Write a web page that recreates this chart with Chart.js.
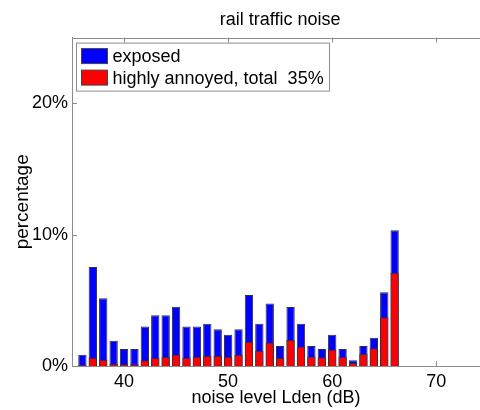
<!DOCTYPE html>
<html>
<head>
<meta charset="utf-8">
<script src="https://cdn.jsdelivr.net/npm/chart.js@4"></script>
<style>
  html, body { margin: 0; padding: 0; background: #fff; }
  #c { display: block; }
</style>
</head>
<body>
<canvas id="c" width="480" height="410"></canvas>
<script>
// Noise level classes (dB, Lden)
const levels = [36,37,38,39,40,41,42,43,44,45,46,47,48,49,50,51,52,53,54,55,56,57,58,59,60,61,62,63,64,65,66];
// Share of population exposed per class (%)
const exposed = [0.86,7.53,5.15,1.92,1.29,1.29,3.0,3.86,3.86,4.52,3.0,3.0,3.21,2.8,2.37,2.8,5.4,3.21,4.75,1.52,4.49,3.21,1.52,1.29,2.37,1.29,0.43,1.52,2.15,5.61,10.33];
// Share of population highly annoyed per class (%)
const annoyed = [0.08,0.63,0.48,0.18,0.13,0.13,0.43,0.63,0.68,0.88,0.63,0.71,0.78,0.76,0.71,0.86,1.82,1.16,1.79,0.61,1.97,1.49,0.73,0.66,1.26,0.71,0.23,0.91,1.36,3.71,7.1];
const xTicks = [40, 50, 60, 70];
const yTicks = [0, 10, 20];
const seriesNames = ['exposed', 'highly annoyed, total  35%'];
const chartTitle = 'rail traffic noise';
const xTitle = 'noise level Lden (dB)';
const yTitle = 'percentage';

const FONT = '"Liberation Sans", Arial, Helvetica, sans-serif';
const AXIS_GRAY = '#8c8c8c';
const BLUE = '#0000ff';
const RED = '#ff0000';
// full axis span in dB; the canvas cuts the plot off a little before the upper end
const X_FULL_MAX = 75;

// Centre the title over the whole axis span rather than over the canvas
const titleOverAxes = {
  id: 'titleOverAxes',
  afterLayout(chart) {
    const tb = chart.titleBlock;
    if (!tb) return;
    tb.left = chart.chartArea.left;
    tb.right = chart.scales.x.getPixelForValue(X_FULL_MAX);
  }
};

// Box border along the top, inward tick marks on every drawn side
const axisFrame = {
  id: 'axisFrame',
  beforeDatasetsDraw(chart) {
    const {ctx, chartArea: a, scales: {x, y}} = chart;
    ctx.save();
    ctx.strokeStyle = AXIS_GRAY;
    ctx.lineWidth = 1;
    ctx.beginPath();
    ctx.moveTo(a.left, Math.round(a.top) + 0.5);
    ctx.lineTo(a.right, Math.round(a.top) + 0.5);
    const tl = 5;
    xTicks.forEach(v => {
      const px = Math.round(x.getPixelForValue(v)) + 0.5;
      ctx.moveTo(px, a.bottom);
      ctx.lineTo(px, a.bottom - tl);
      ctx.moveTo(px, a.top);
      ctx.lineTo(px, a.top + tl);
    });
    yTicks.forEach(v => {
      const py = Math.round(y.getPixelForValue(v)) + 0.5;
      ctx.moveTo(a.left, py);
      ctx.lineTo(a.left + tl, py);
    });
    ctx.stroke();
    ctx.restore();
  }
};

// Boxed legend in the upper left corner of the plot area
const boxLegend = {
  id: 'boxLegend',
  afterDraw(chart) {
    const {ctx, chartArea: a} = chart;
    const bx = a.left + 4.5, by = a.top + 5.5, bw = 253, bh = 48;
    ctx.save();
    ctx.fillStyle = '#fff';
    ctx.fillRect(bx, by, bw, bh);
    ctx.strokeStyle = AXIS_GRAY;
    ctx.lineWidth = 1;
    ctx.strokeRect(bx, by, bw, bh);
    ctx.font = '18px ' + FONT;
    ctx.textBaseline = 'middle';
    ctx.textAlign = 'left';
    chart.data.datasets.forEach((ds, i) => {
      const rowY = by + 13 + i * 21.5;
      ctx.fillStyle = ds.backgroundColor;
      ctx.fillRect(bx + 5, rowY - 7.5, 26, 15);
      ctx.strokeStyle = '#444';
      ctx.strokeRect(bx + 5, rowY - 7.5, 26, 15);
      ctx.fillStyle = '#000';
      ctx.fillText(ds.label, bx + 36, rowY + 1);
    });
    ctx.restore();
  }
};

new Chart(document.getElementById('c'), {
  type: 'bar',
  data: {
    datasets: [
      {
        label: seriesNames[0],
        data: levels.map((l, i) => ({x: l, y: exposed[i]})),
        backgroundColor: BLUE,
        borderColor: '#333',
        borderWidth: 1,
        order: 1
      },
      {
        label: seriesNames[1],
        data: levels.map((l, i) => ({x: l, y: annoyed[i]})),
        backgroundColor: RED,
        borderColor: '#333',
        borderWidth: 1,
        order: 0
      }
    ]
  },
  options: {
    responsive: false,
    animation: false,
    devicePixelRatio: 1,
    grouped: false,
    categoryPercentage: 1,
    barPercentage: 0.8,
    layout: {padding: {left: 0, right: 0, top: 0, bottom: 0}},
    plugins: {
      legend: {display: false},
      tooltip: {enabled: false},
      title: {
        display: true,
        text: chartTitle,
        color: '#000',
        font: {family: FONT, size: 18, weight: 'normal'},
        padding: {top: 9, bottom: 7}
      }
    },
    scales: {
      x: {
        type: 'linear',
        offset: false,
        min: 35,
        max: 74.2,
        grid: {display: false, drawTicks: false, offset: false},
        border: {display: true, color: AXIS_GRAY, width: 1},
        afterBuildTicks: s => { s.ticks = xTicks.map(v => ({value: v})); },
        afterFit: s => { s.height = 44; },
        ticks: {
          color: '#000',
          font: {family: FONT, size: 18},
          padding: 5,
          maxRotation: 0,
          autoSkip: false,
          callback: v => String(v)
        },
        title: {
          display: true,
          text: xTitle,
          color: '#000',
          font: {family: FONT, size: 18},
          padding: {top: 0, bottom: 1}
        }
      },
      y: {
        min: 0,
        max: 25,
        grid: {display: false, drawTicks: false},
        border: {display: true, color: AXIS_GRAY, width: 1},
        afterBuildTicks: s => { s.ticks = yTicks.map(v => ({value: v})); },
        afterFit: s => { s.width = 72; },
        ticks: {
          color: '#000',
          font: {family: FONT, size: 18},
          padding: 4,
          callback: v => v + '%'
        },
        title: {
          display: true,
          text: yTitle,
          color: '#000',
          font: {family: FONT, size: 19},
          padding: {top: 11, bottom: 0}
        }
      }
    }
  },
  plugins: [titleOverAxes, axisFrame, boxLegend]
});
</script>
</body>
</html>
